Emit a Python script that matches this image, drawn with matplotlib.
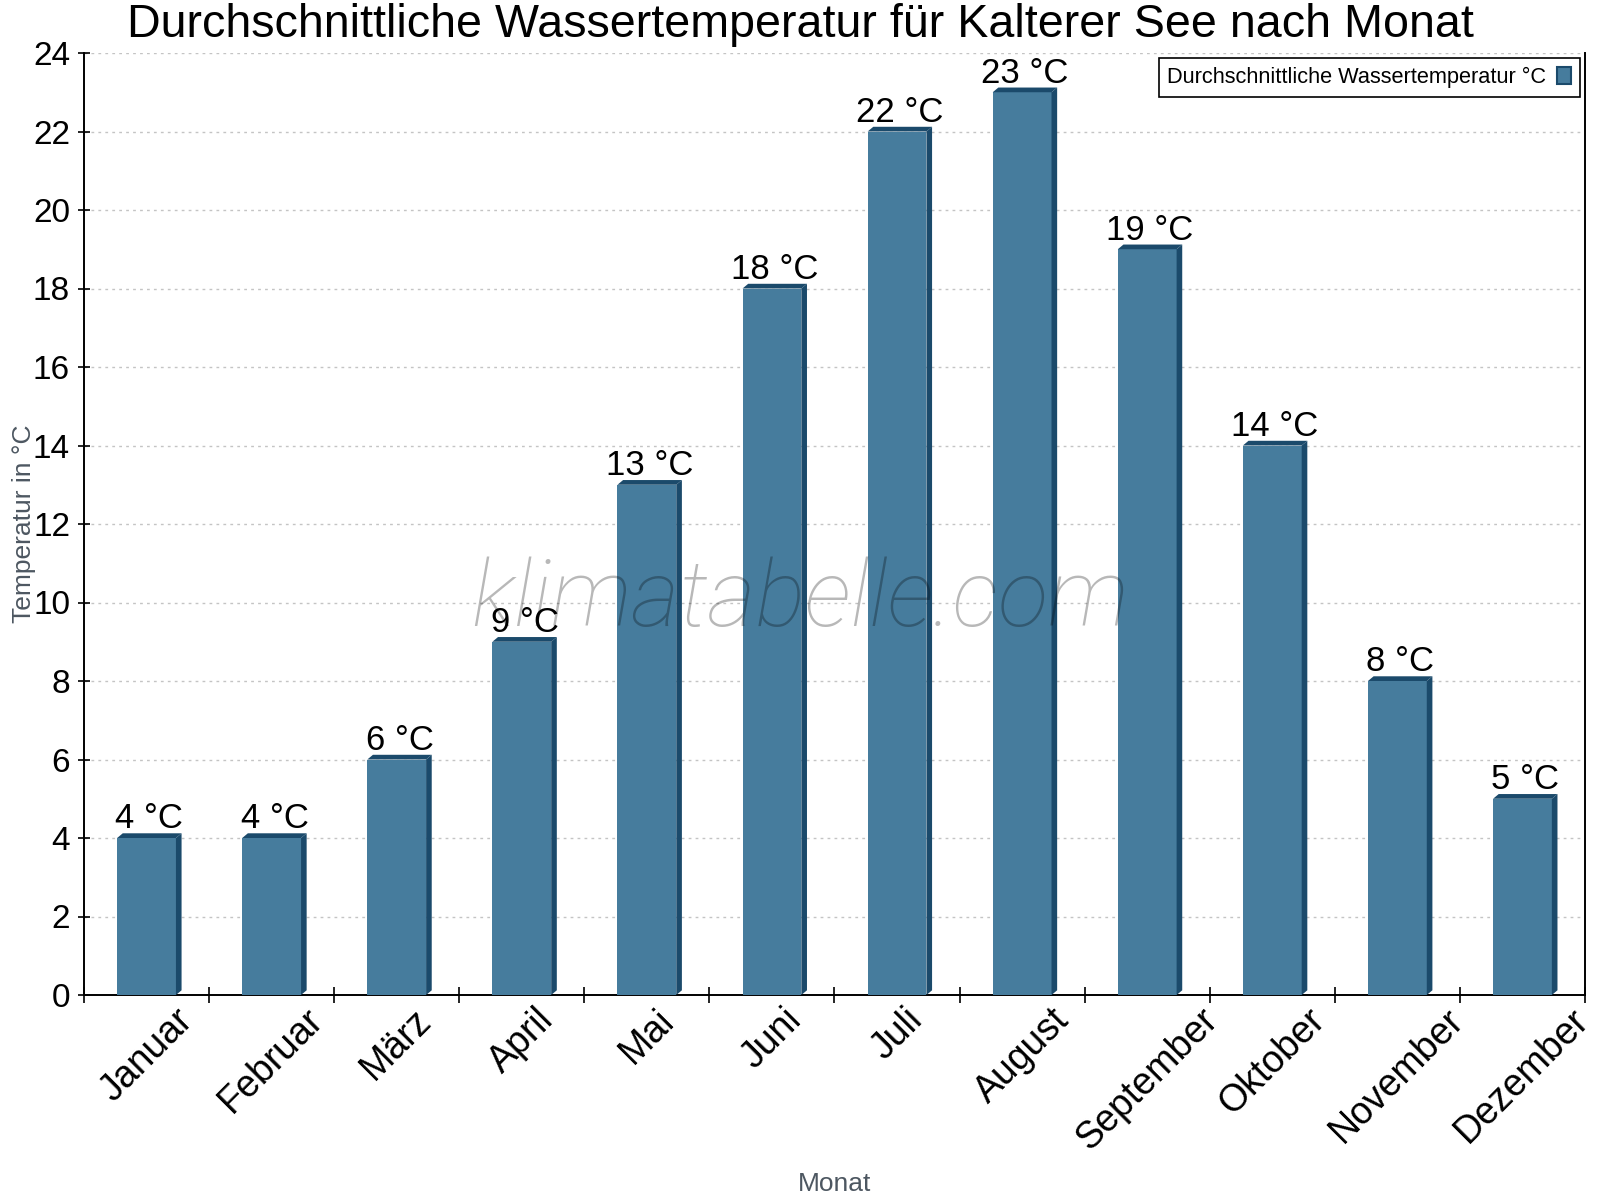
import numpy as np
import matplotlib
matplotlib.use("Agg")
from matplotlib import pyplot as plt
from matplotlib.patches import Polygon, Patch

months = ['Januar', 'Februar', 'März', 'April', 'Mai', 'Juni', 'Juli',
          'August', 'September', 'Oktober', 'November', 'Dezember']
water_temp = [4, 4, 6, 9, 13, 18, 22, 23, 19, 14, 8, 5]

title = 'Durchschnittliche Wassertemperatur für Kalterer See nach Monat'
series_name = 'Durchschnittliche Wassertemperatur °C'

front = '#467c9d'
dark = '#1b4a6b'
label_grey = '#4d5761'

plt.rcParams['font.family'] = ['Liberation Sans', 'DejaVu Sans']

fig = plt.figure(figsize=(16, 12), dpi=100)
ax = fig.add_axes([84/1600, 1-995/1200, 1501/1600, 942/1200])

xs = np.arange(len(months))
w = 0.47
dx = 0.045   # depth to the right (data units)
dy = 0.12    # depth upwards (data units)

ax.bar(xs, water_temp, width=w, color=front, zorder=3)
for x, v in zip(xs, water_temp):
    x0, x1 = x - w/2, x + w/2
    top = Polygon([(x0, v), (x0+dx, v+dy), (x1+dx, v+dy), (x1, v)],
                  closed=True, facecolor=dark, edgecolor='none', zorder=3)
    side = Polygon([(x1, 0), (x1+dx, dy), (x1+dx, v+dy), (x1, v)],
                   closed=True, facecolor=dark, edgecolor='none', zorder=3)
    ax.add_patch(top)
    ax.add_patch(side)
    ax.annotate('%d °C' % v, (x + dx/2, v + dy), xytext=(0, -1.5),
                textcoords='offset points', ha='center', va='bottom',
                fontsize=25, color='black', zorder=5)

ax.set_xlim(-0.5, len(months) - 0.5)
ax.set_ylim(0, 24)
ax.set_yticks(np.arange(0, 25, 2))
ax.tick_params(axis='y', labelsize=24, direction='inout', length=8, width=1.2, pad=6)

# category boundaries carry the ticks, names sit in the middle
ax.set_xticks(np.arange(-0.5, len(months), 1))
ax.set_xticklabels([])
ax.set_xticks(xs, minor=True)
ax.set_xticklabels(months, minor=True, rotation=45, ha='center', va='top', fontsize=27)
ax.tick_params(axis='x', which='major', direction='inout', length=12, width=1.2)
ax.tick_params(axis='x', which='minor', length=0, pad=5)

ax.yaxis.grid(True, color='#c4c4c4', linestyle=(0, (2, 3)), linewidth=1, zorder=0)
ax.set_axisbelow(True)

ax.spines['top'].set_visible(False)
for s in ['left', 'bottom', 'right']:
    ax.spines[s].set_linewidth(1.4)
    ax.spines[s].set_color('black')

ax.set_ylabel('Temperatur in °C', fontsize=19, color=label_grey)
ax.yaxis.set_label_coords(-0.032, 0.5)
ax.set_xlabel('Monat', fontsize=19, color=label_grey)
ax.xaxis.set_label_coords(0.5, -0.188)

fig.suptitle(title, fontsize=33.6, x=0.5, y=1 - 3/1200, va='top')

handle = Patch(facecolor=front, edgecolor=dark, linewidth=1.5)
leg = ax.legend([handle], [series_name], loc='upper right',
                bbox_to_anchor=(0.9967, 0.9947), borderaxespad=0,
                fontsize=15.7, markerfirst=False, handlelength=0.65,
                handleheight=0.8, handletextpad=0.5, borderpad=0.4,
                fancybox=False, framealpha=1, edgecolor='black')
leg.get_frame().set_linewidth(1.2)
leg.set_zorder(6)

fig.text(0.5, 1 - 601/1200, 'klimatabelle.com', fontsize=67, family='Roboto',
         style='italic', weight='light', color='black', alpha=0.28,
         ha='center', va='center', zorder=10)

fig.savefig('out.png', dpi=100)
